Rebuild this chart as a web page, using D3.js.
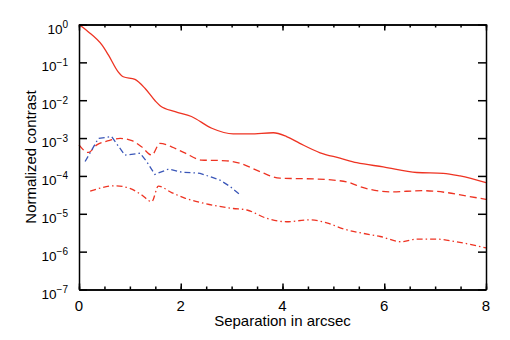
<!DOCTYPE html>
<html>
<head>
<meta charset="utf-8">
<script src="https://cdn.jsdelivr.net/npm/d3@7"></script>
<style>
  body { margin: 0; background: #fff; }
  svg { display: block; font-family: "Liberation Sans", Arial, sans-serif; }
</style>
</head>
<body>
<div id="chart"></div>
<script>
// separation (arcsec) and log10 of normalized contrast
const solidX = [0, 0.18, 0.45, 0.58, 0.77, 0.87, 1.1, 1.3, 1.5, 1.6, 1.89, 2.21, 2.61, 3.03, 3.36, 3.82, 4.08, 4.34, 4.74, 5.13, 5.46, 5.98, 6.64, 7.16, 7.49, 8.0];
const solidL = [0, -0.19, -0.54, -0.81, -1.25, -1.38, -1.45, -1.69, -2.02, -2.15, -2.30, -2.43, -2.74, -2.89, -2.89, -2.86, -2.96, -3.14, -3.39, -3.53, -3.65, -3.76, -3.91, -3.93, -4.0, -4.18];

const dashX = [0, 0.18, 0.35, 0.58, 0.81, 1.04, 1.23, 1.43, 1.59, 1.82, 2.09, 2.41, 2.9, 3.17, 3.56, 3.95, 4.61, 5.0, 5.3, 5.52, 6.11, 6.77, 7.23, 7.62, 8.0];
const dashL = [-3.18, -3.38, -3.18, -3.07, -3.01, -3.07, -3.23, -3.45, -3.14, -3.23, -3.40, -3.58, -3.60, -3.67, -3.89, -4.06, -4.08, -4.11, -4.17, -4.28, -4.42, -4.39, -4.44, -4.53, -4.62];

const dotX = [0.22, 0.71, 1.0, 1.23, 1.43, 1.56, 1.82, 2.09, 2.41, 3.03, 3.30, 3.69, 4.08, 4.53, 4.87, 5.2, 5.52, 5.92, 6.34, 6.64, 7.04, 7.42, 8.0];
const dotL = [-4.40, -4.26, -4.33, -4.50, -4.68, -4.27, -4.44, -4.59, -4.71, -4.86, -4.90, -5.12, -5.21, -5.16, -5.24, -5.40, -5.50, -5.60, -5.74, -5.67, -5.67, -5.74, -5.90];

const blueX = [0.12, 0.38, 0.64, 0.90, 1.20, 1.33, 1.49, 1.76, 2.02, 2.38, 2.77, 2.97, 3.17];
const blueL = [-3.62, -3.01, -2.96, -3.45, -3.40, -3.62, -3.96, -3.82, -3.90, -3.93, -4.11, -4.28, -4.50];

const xMajor = [0, 2, 4, 6, 8];
const xMinor = d3.range(0, 8.01, 0.5);
const yExps = [0, -1, -2, -3, -4, -5, -6, -7];

const width = 510, height = 340;
const plotL = 79, plotR = 486, plotT = 24.5, plotB = 289.5;

const svg = d3.select("#chart").append("svg")
  .attr("width", width).attr("height", height);

const x = d3.scaleLinear().domain([0, 8]).range([plotL, plotR]);
const y = d3.scaleLog().domain([1e-7, 1]).range([plotB, plotT]);

const red = "#ee3322", blue = "#3a56b8";

function series(xs, ls) {
  return xs.map((v, i) => ({x: v, y: Math.pow(10, ls[i])}));
}

const smooth = d3.line().x(d => x(d.x)).y(d => y(d.y)).curve(d3.curveMonotoneX);
const straight = d3.line().x(d => x(d.x)).y(d => y(d.y));

svg.append("path")
  .attr("d", smooth(series(solidX, solidL)))
  .attr("fill", "none").attr("stroke", red).attr("stroke-width", 1.3);

svg.append("path")
  .attr("d", smooth(series(dashX, dashL)))
  .attr("fill", "none").attr("stroke", red).attr("stroke-width", 1.3)
  .attr("stroke-dasharray", "7,4");

svg.append("path")
  .attr("d", smooth(series(dotX, dotL)))
  .attr("fill", "none").attr("stroke", red).attr("stroke-width", 1.3)
  .attr("stroke-dasharray", "6,3,1.5,3");

svg.append("path")
  .attr("d", straight(series(blueX, blueL)))
  .attr("fill", "none").attr("stroke", blue).attr("stroke-width", 1.3)
  .attr("stroke-dasharray", "6,3,1.5,3");

// axes: major + minor ticks on all four sides
const yTicks = yExps.map(e => Math.pow(10, e));

function styleAxis(g) {
  g.select(".domain").attr("stroke", "#000").attr("stroke-width", 1.5);
  g.selectAll(".tick line").attr("stroke", "#000").attr("stroke-width", 1.5);
  g.selectAll(".tick text").remove();
}

svg.append("g").attr("transform", `translate(0,${plotB})`)
  .call(d3.axisTop(x).tickValues(xMinor).tickSize(3).tickSizeOuter(0)).call(styleAxis);
svg.append("g").attr("transform", `translate(0,${plotB})`)
  .call(d3.axisTop(x).tickValues(xMajor).tickSize(6).tickSizeOuter(0)).call(styleAxis);
svg.append("g").attr("transform", `translate(0,${plotT})`)
  .call(d3.axisBottom(x).tickValues(xMinor).tickSize(3).tickSizeOuter(0)).call(styleAxis);
svg.append("g").attr("transform", `translate(0,${plotT})`)
  .call(d3.axisBottom(x).tickValues(xMajor).tickSize(6).tickSizeOuter(0)).call(styleAxis);
svg.append("g").attr("transform", `translate(${plotL},0)`)
  .call(d3.axisRight(y).tickValues(yTicks).tickSize(8).tickSizeOuter(0)).call(styleAxis);
svg.append("g").attr("transform", `translate(${plotR},0)`)
  .call(d3.axisLeft(y).tickValues(yTicks).tickSize(8).tickSizeOuter(0)).call(styleAxis);

// tick labels
svg.append("g").selectAll("text").data(xMajor).join("text")
  .attr("x", d => x(d)).attr("y", plotB + 21)
  .attr("text-anchor", "middle").attr("font-size", 15)
  .text(d => d);

const yl = svg.append("g").selectAll("text").data(yExps).join("text")
  .attr("x", 68).attr("y", d => y(Math.pow(10, d)) + 9)
  .attr("text-anchor", "end").attr("font-size", 13.5);
yl.append("tspan").text("10");
yl.append("tspan").attr("dy", -5.5).attr("font-size", 10)
  .text(d => d < 0 ? "\u2212" + (-d) : d);

// axis titles
svg.append("text")
  .attr("x", (plotL + plotR) / 2).attr("y", 326)
  .attr("text-anchor", "middle").attr("font-size", 15)
  .text("Separation in arcsec");

svg.append("text")
  .attr("transform", `translate(36,${(plotT + plotB) / 2}) rotate(-90)`)
  .attr("text-anchor", "middle").attr("font-size", 15)
  .text("Normalized contrast");
</script>
</body>
</html>
